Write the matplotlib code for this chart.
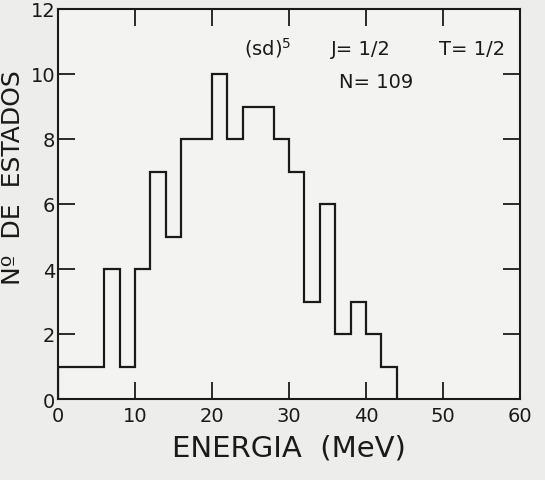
import numpy as np
import matplotlib.pyplot as plt

# histogram of states per 2 MeV bin
edges = np.arange(0, 46, 2)
counts = [1, 1, 1, 4, 1, 4, 7, 5, 8, 8, 10, 8, 9, 9, 8, 7, 3, 6, 2, 3, 2, 1]
xticks = [0, 10, 20, 30, 40, 50, 60]
yticks = [0, 2, 4, 6, 8, 10, 12]

fig = plt.figure(figsize=(5.45, 4.81), dpi=100, facecolor='#ededeb')
ax = fig.add_axes([58 / 545, 1 - 400 / 481, 462 / 545, 390 / 481])
ax.set_facecolor('#f3f3f1')

ax.stairs(counts, edges, color='#1a1a1a', linewidth=1.6)

ax.set_xlim(0, 60)
ax.set_ylim(0, 12)
ax.set_xticks(xticks)
ax.set_yticks(yticks)
ax.tick_params(direction='in', length=12, width=1.3, colors='#1a1a1a',
               labelsize=14, top=True, right=True)
ax.tick_params(axis='y', pad=2)
ax.tick_params(axis='x', pad=5)
for sp in ax.spines.values():
    sp.set_linewidth(1.5)
    sp.set_color('#1a1a1a')

ax.set_xlabel('ENERGIA  (MeV)', fontsize=21, color='#1a1a1a', labelpad=6)
ax.set_ylabel('Nº  DE  ESTADOS', fontsize=18, color='#1a1a1a')
ax.yaxis.set_label_coords(-0.072, 0.57)

ax.text(24.2, 10.6, '(sd)$^5$', fontsize=14, color='#1a1a1a')
ax.text(35.5, 10.6, 'J= 1/2', fontsize=14, color='#1a1a1a')
ax.text(49.5, 10.6, 'T= 1/2', fontsize=14, color='#1a1a1a')
ax.text(36.5, 9.6, 'N= 109', fontsize=14, color='#1a1a1a')

fig.savefig('out.png', dpi=100, facecolor=fig.get_facecolor())
